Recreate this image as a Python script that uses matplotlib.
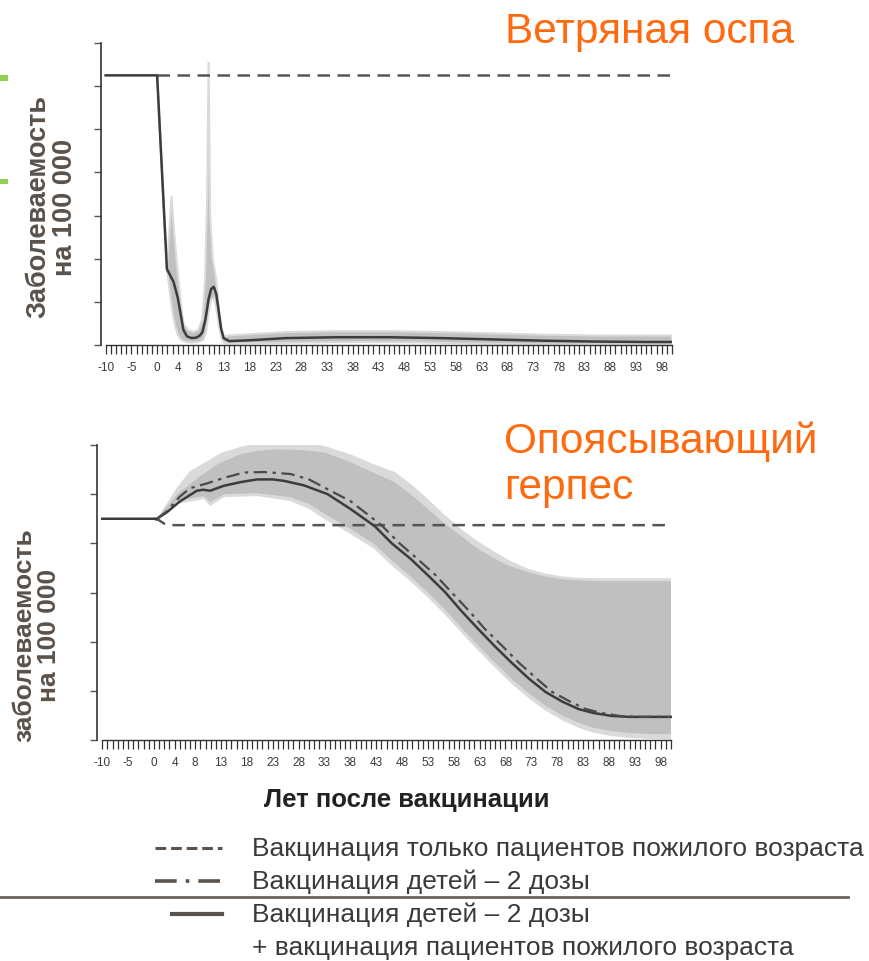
import matplotlib
matplotlib.use("Agg")
import matplotlib.pyplot as plt
from matplotlib.lines import Line2D
from matplotlib.patches import Rectangle

plt.rcParams['font.family'] = ['Liberation Sans', 'DejaVu Sans']

# ---------------- data ----------------
tick_label_values = [-10, -5, 0, 4, 8, 13, 18, 23, 28, 33, 38, 43, 48, 53, 58, 63, 68, 73, 78, 83, 88, 93, 98]
year_ticks = list(range(-10, 101))

# Varicella (top)
var_elderly_x = [0, 100]
var_elderly_y = [625, 625]
var_comb_x = [-10, 0, 1.9, 2.6, 3.2, 4.0, 4.6, 5.1, 5.8, 6.7, 7.6, 8.3, 8.8, 9.4, 10.0, 10.5, 11.0, 11.5, 11.9, 12.4, 12.9, 14, 18, 25, 35, 45, 55, 65, 75, 85, 95, 100]
var_comb_y = [625, 625, 176, 160, 146, 110, 70, 35, 20, 16, 17, 22, 30, 60, 107, 130, 135, 118, 84, 40, 16, 9, 11, 16, 18, 18, 16, 13, 10, 8, 7, 7]
var_up_x = [0, 1.9, 2.3, 2.8, 3.3, 4.0, 4.6, 5.1, 6, 7, 8, 8.8, 9.3, 9.7, 10.0, 10.3, 10.8, 11.5, 12, 12.5, 13, 14, 18, 25, 35, 45, 55, 65, 75, 85, 95, 100]
var_up_y = [625, 176, 250, 346, 260, 170, 100, 50, 35, 30, 35, 60, 150, 330, 656, 300, 200, 150, 80, 35, 20, 22, 25, 30, 32, 32, 30, 27, 24, 22, 22, 22]
var_lo_x = [0, 1.9, 2.5, 3, 3.5, 4, 4.5, 5, 6, 7, 8, 9, 9.5, 10, 10.5, 11, 11.5, 12, 12.5, 13, 14, 20, 30, 40, 50, 60, 70, 80, 90, 100]
var_lo_y = [625, 176, 120, 75, 45, 25, 14, 9, 6, 6, 7, 12, 30, 75, 105, 110, 85, 45, 15, 5, 3, 4, 6, 7, 6, 4, 2, 1, 1, 1]

# Herpes zoster (bottom)
hz_elderly_x = [0, 1, 2, 3, 100]
hz_elderly_y = [450, 447, 440, 437, 437]
hz_comb_x = [-10, 0.6, 2.5, 5, 8.3, 9.5, 10.9, 13.5, 17, 20, 23, 25.2, 29, 33.6, 38, 42.7, 46, 49.7, 53, 56.3, 59.5, 62.7, 66, 69.1, 72.5, 75.7, 79, 82.1, 85, 88.5, 92, 96, 100]
hz_comb_y = [450, 450, 463, 485, 507, 509, 507, 517, 525, 530, 530, 527, 518, 500, 470, 435, 400, 368, 335, 301, 262, 226, 190, 158, 125, 98, 78, 63, 55, 49, 47, 47, 47]
hz_child_x = [0.6, 2.5, 5, 7, 10.3, 13.5, 17.4, 21.3, 26.4, 30, 33.6, 38, 44, 47.5, 51, 54.5, 57.5, 61, 64, 67.5, 70.5, 74, 77, 80.5, 83.5, 86.5, 90, 94, 100]
hz_child_y = [450, 465, 495, 512, 522, 533, 544, 545, 541, 530, 510, 486, 437, 400, 368, 335, 301, 262, 226, 190, 158, 125, 98, 78, 63, 55, 49, 47, 47]
hz_up_out_x = [0.6, 4.5, 7, 10.3, 13, 16.7, 21.4, 26.4, 30, 33, 38, 42, 46.6, 50, 53, 56, 59.4, 62.5, 66, 69, 72.4, 75.5, 78.8, 82, 86, 100]
hz_up_out_y = [450, 514, 547, 567, 584, 596, 606, 606, 603, 598, 581, 563, 545, 518, 490, 460, 429, 405, 382, 364, 348, 339, 333, 330, 329, 329]
hz_up_in_x = [0.6, 4.5, 9, 12.5, 16.7, 20, 23.3, 28, 33, 38, 42, 46.6, 50, 53, 56, 59.4, 62.5, 66, 69, 72.4, 75.5, 78.8, 85.4, 100]
hz_up_in_y = [450, 500, 537, 562, 581, 588, 591, 590, 585, 565, 546, 524, 497, 470, 442, 415, 390, 368, 353, 341, 333, 327, 323, 323]
hz_lo_x = [0.6, 4.5, 9.7, 10.9, 13.6, 20, 26.4, 30, 33, 36, 39.4, 42.7, 46, 49.7, 53, 56.3, 59.5, 62.7, 66, 69.1, 72.5, 75.7, 79, 82.1, 85, 88.5, 92, 96, 100]
hz_lo_out_y = [450, 480, 490, 476, 494, 496, 486, 470, 449, 432, 410, 388, 355, 322, 290, 255, 218, 182, 147, 115, 85, 60, 40, 25, 15, 8, 4, 2, 1]
hz_lo_in_y = [450, 486, 496, 484, 500, 502, 494, 480, 460, 442, 420, 398, 365, 332, 300, 265, 228, 192, 157, 125, 95, 70, 50, 35, 25, 18, 14, 12, 12]

title_top = "Ветряная оспа"
title_bottom = ["Опоясывающий", "герпес"]
ylabel_top = "Заболеваемость\nна 100 000"
ylabel_bottom = "заболеваемость\nна 100 000"
xlabel = "Лет после вакцинации"
legend_rows = ["Вакцинация только пациентов пожилого возраста",
               "Вакцинация детей – 2 дозы",
               "Вакцинация детей – 2 дозы",
               "+ вакцинация пациентов пожилого возраста"]

# ---------------- figure ----------------
W, H = 869, 962
fig = plt.figure(figsize=(W / 100, H / 100), dpi=100)


def ax_rect(left, top, right, bottom):
    return [left / W, 1 - bottom / H, (right - left) / W, (bottom - top) / H]


C_IN = '#c0c0c0'
C_OUT = '#dadada'
C_LINE = '#3c3c3c'


def style_axes(ax, xlim, ylim, yticks):
    ax.set_xlim(*xlim)
    ax.set_ylim(*ylim)
    for s in ['top', 'right']:
        ax.spines[s].set_visible(False)
    ax.spines['bottom'].set_bounds(-10, 100)
    ax.spines['left'].set_bounds(yticks[0], yticks[-1])
    ax.spines['left'].set_color('#333333')
    ax.spines['bottom'].set_color('#333333')
    ax.spines['left'].set_linewidth(1.2)
    ax.spines['bottom'].set_linewidth(1.0)
    ax.set_xticks(year_ticks, minor=True)
    ax.set_xticks(tick_label_values)
    ax.set_xticklabels([str(v) for v in tick_label_values])
    ax.tick_params(axis='x', which='both', direction='out', length=6.5, width=0.9,
                   colors='#333333', labelsize=8.5, pad=5)
    ax.tick_params(axis='x', which='major', labelcolor='#3a3a3a')
    ax.set_yticks(yticks)
    ax.set_yticklabels([])
    ax.tick_params(axis='y', direction='out', length=5, width=1.0, colors='#555555')
    ax.patch.set_alpha(0)


# top axes
ax1 = fig.add_axes(ax_rect(101, 44, 672, 346))
ax1.fill(var_up_x + var_lo_x[::-1], var_up_y + var_lo_y[::-1], facecolor=C_IN,
         edgecolor=C_OUT, linewidth=1.5, zorder=1)
ax1.plot(var_elderly_x, var_elderly_y, color='#555555', lw=1.8, dashes=(5, 3), zorder=3)
ax1.plot(var_comb_x, var_comb_y, color=C_LINE, lw=1.8, zorder=4)
style_axes(ax1, (-10.9, 100.0), (0, 700), list(range(0, 701, 100)))

# bottom axes
ax2 = fig.add_axes(ax_rect(97, 446, 672, 741))
ax2.fill(hz_up_out_x + hz_lo_x[::-1], hz_up_out_y + hz_lo_out_y[::-1], facecolor=C_OUT,
         edgecolor='none', zorder=1)
ax2.fill(hz_up_in_x + hz_lo_x[::-1], hz_up_in_y + hz_lo_in_y[::-1], facecolor=C_IN,
         edgecolor='none', zorder=2)
ax2.plot(hz_elderly_x, hz_elderly_y, color='#555555', lw=1.8, dashes=(5, 3), zorder=3)
ax2.plot(hz_comb_x, hz_comb_y, color=C_LINE, lw=1.8, zorder=4)
ax2.plot(hz_child_x, hz_child_y, color='#4a4a4a', lw=1.6, dashes=(6, 2.5, 1.5, 2.5), zorder=5)
style_axes(ax2, (-11.0, 100.2), (0, 600), list(range(0, 601, 100)))

# texts
ORANGE = '#ff6a10'
fig.text(505 / W, 1 - 43 / H, title_top, color=ORANGE, fontsize=30.5, va='baseline', ha='left')
fig.text(504 / W, 1 - 453 / H, title_bottom[0], color=ORANGE, fontsize=30.5, va='baseline', ha='left')
fig.text(504 / W, 1 - 499 / H, title_bottom[1], color=ORANGE, fontsize=30.5, va='baseline', ha='left')

LBL = '#5a514a'
fig.text(52 / W, 1 - 207 / H, ylabel_top, rotation=90, fontsize=19.5, fontweight='bold',
         color=LBL, ha='center', va='center', linespacing=1.05)
fig.text(37 / W, 1 - 635 / H, ylabel_bottom, rotation=90, fontsize=19, fontweight='bold',
         color=LBL, ha='center', va='center', linespacing=1.05)
fig.text(407 / W, 1 - 800 / H, xlabel, fontsize=18.5, fontweight='bold', color='#222222',
         ha='center', va='center')

# legend
LEGC = '#5b534c'
line_y = [849, 882, 915]
text_y = [849, 882, 915, 948]
fig.add_artist(Line2D([155 / W, 222 / W], [1 - line_y[0] / H] * 2, color=LEGC, lw=2.2,
                      dashes=(3.5, 1.6)))
fig.add_artist(Line2D([155 / W, 222 / W], [1 - line_y[1] / H] * 2, color=LEGC, lw=2.6,
                      dashes=(6, 2.5, 1, 2.5)))
fig.add_artist(Line2D([172 / W, 222 / W], [1 - line_y[2] / H] * 2, color=LEGC, lw=3.0))
for i, lab in enumerate(legend_rows):
    fig.text(252 / W, 1 - text_y[i] / H, lab, fontsize=19,
             color='#3a3a3a', ha='left', va='center')
fig.add_artist(Line2D([0, 848 / W], [1 - 898 / H] * 2, color='#6b625a', lw=2.0))

# green side marks
fig.add_artist(Rectangle((0, 1 - 82 / H), 8 / W, 6 / H, transform=fig.transFigure,
                         color='#92d050', lw=0))
fig.add_artist(Rectangle((0, 1 - 185 / H), 8 / W, 5 / H, transform=fig.transFigure,
                         color='#92d050', lw=0))

fig.savefig('out.png', dpi=100)
